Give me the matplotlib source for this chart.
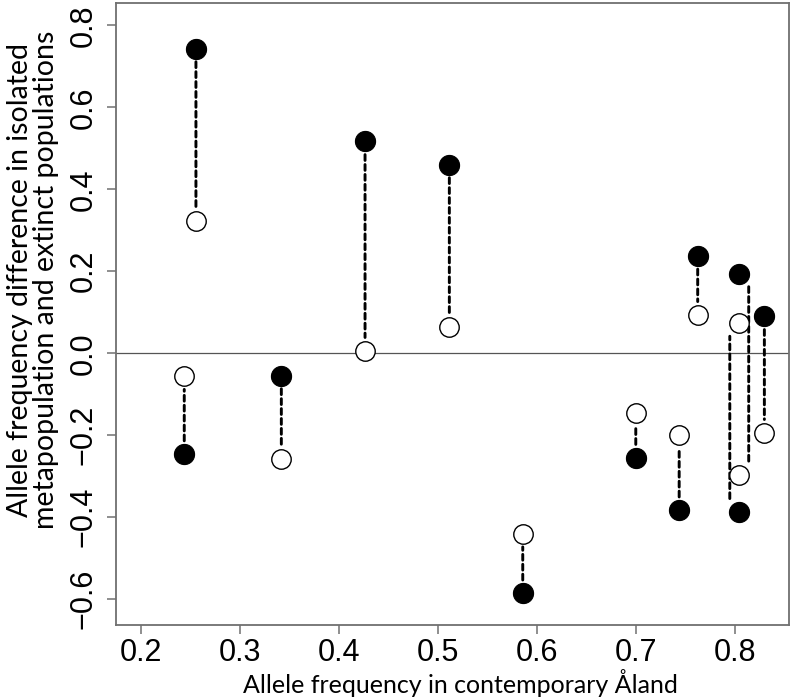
#!/usr/bin/env python3
import numpy as np
import matplotlib
matplotlib.use('Agg')
import matplotlib.pyplot as plt

# allele frequency in contemporary Aland (x) and the two differences (y)
aland_freq = [0.2558, 0.2440, 0.3420, 0.4265, 0.5116, 0.5857, 0.6998, 0.7436, 0.7623, 0.8040, 0.8040, 0.8296]
isolated_diff = [0.7436, -0.2460, -0.0545, 0.5170, 0.4606, -0.5857, -0.2547, -0.3830, 0.2375, 0.1946, -0.3869, 0.0900]
extinct_diff = [0.3226, -0.0560, -0.2580, 0.0063, 0.0633, -0.4404, -0.1460, -0.1988, 0.0939, -0.2978, 0.0737, -0.1939]

# small horizontal shift of the dashed connectors for the overlapping pair
line_shift = [0, 0, 0, 0, 0, 0, 0, 0, 0, 0.0098, -0.0093, 0]

grey = '#707070'
tick_font = ['Liberation Sans Narrow', 'Liberation Sans', 'DejaVu Sans']
label_font = ['Lato', 'DejaVu Sans']

fig = plt.figure(figsize=(7.93, 6.99), dpi=100)
ax = fig.add_axes([0.1459, 0.1059, 0.8491, 0.8902])
ax.set_xlim(0.1748, 0.8545)
ax.set_ylim(-0.6632, 0.8555)

ax.axhline(0, color='#555555', lw=0.9, zorder=1)

for x, yi, ye, dx in zip(aland_freq, isolated_diff, extinct_diff, line_shift):
    ax.annotate('', xy=(x + dx, ye), xytext=(x + dx, yi),
                arrowprops=dict(arrowstyle='-', color='black', lw=2.1,
                                linestyle=(0, (2.0, 1.4)), shrinkA=9.5, shrinkB=9.5),
                zorder=2)

ax.plot(aland_freq, isolated_diff, 'o', color='black', ms=14.5, mec='black', mew=0.8, ls='none', zorder=3)
ax.plot(aland_freq, extinct_diff, 'o', color='white', ms=14, mec='black', mew=1.0, ls='none', zorder=3)

ax.set_xticks([0.2, 0.3, 0.4, 0.5, 0.6, 0.7, 0.8])
ax.set_yticks([-0.6, -0.4, -0.2, 0.0, 0.2, 0.4, 0.6, 0.8])
ax.set_xticklabels(['0.2', '0.3', '0.4', '0.5', '0.6', '0.7', '0.8'], family=tick_font, fontsize=22)
ax.set_yticklabels(['\u22120.6', '\u22120.4', '\u22120.2', '0.0', '0.2', '0.4', '0.6', '0.8'],
                   family=tick_font, fontsize=22, rotation=90, va='center')
ax.tick_params(length=6.5, width=1.1, color=grey)
ax.tick_params(axis='x', pad=3)
ax.tick_params(axis='y', pad=6)
for s in ax.spines.values():
    s.set_color(grey)
    s.set_linewidth(1.3)

fig.text(0.58, 0.023, 'Allele frequency in contemporary \u00c5land', family=label_font,
         fontsize=18, ha='center', va='center')
fig.text(0.041, 0.60, 'Allele frequency difference in isolated\nmetapopulation and extinct populations',
         family=label_font, fontsize=20.5, rotation=90, ha='center', va='center',
         multialignment='center', linespacing=1.0)

fig.savefig('out.png', dpi=100)
